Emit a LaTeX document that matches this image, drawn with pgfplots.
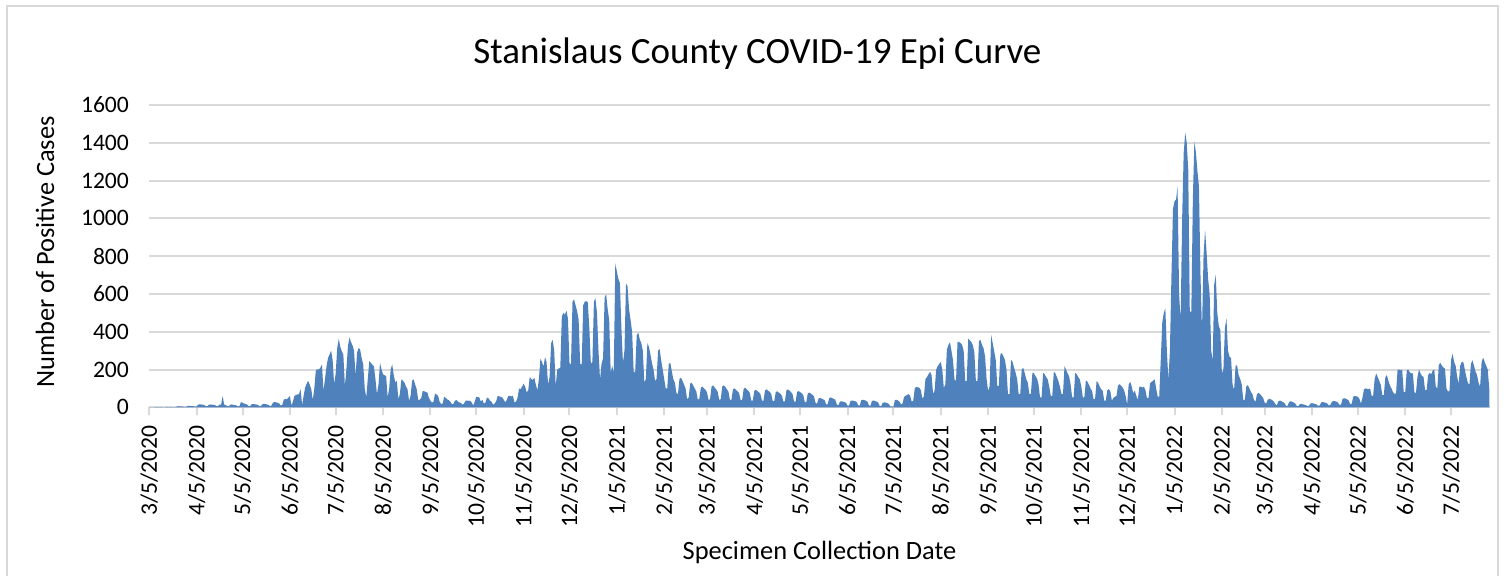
\documentclass[border=0pt]{standalone}
\usepackage{pgfplots}
\pgfplotsset{compat=1.18}
\usepackage{pgfplotstable}
\usepackage{fontspec}
\setmainfont{Carlito}
\definecolor{areablue}{HTML}{4F81BD}
\definecolor{gridgray}{HTML}{D9D9D9}
% daily positive cases, starting 3/5/2020 (one value per day)
\pgfplotstableread[row sep=\\, header=false]{
0\\0\\0\\
0\\1\\1\\1\\0\\1\\0\\
0\\1\\2\\1\\2\\1\\0\\
1\\4\\6\\5\\5\\4\\2\\
2\\7\\8\\7\\6\\6\\3\\
5\\14\\16\\15\\14\\12\\6\\
6\\14\\15\\14\\13\\12\\6\\
6\\15\\14\\60\\14\\12\\6\\
5\\14\\15\\13\\12\\10\\5\\
6\\28\\24\\20\\18\\15\\6\\
6\\16\\18\\16\\15\\13\\6\\
6\\16\\18\\17\\15\\13\\6\\
10\\25\\28\\26\\24\\20\\10\\
12\\40\\45\\42\\50\\61\\9\\
30\\61\\65\\68\\70\\96\\14\\
60\\105\\125\\140\\120\\96\\38\\
100\\195\\201\\200\\210\\227\\87\\
150\\218\\262\\280\\300\\250\\122\\
180\\314\\363\\320\\297\\279\\114\\
200\\323\\370\\345\\328\\300\\166\\
290\\314\\305\\260\\227\\100\\52\\
150\\245\\235\\225\\218\\150\\70\\
120\\236\\200\\175\\170\\166\\52\\
100\\200\\227\\170\\131\\140\\44\\
70\\148\\140\\131\\110\\96\\35\\
60\\140\\148\\120\\96\\40\\40\\
50\\87\\85\\80\\79\\50\\35\\
25\\30\\73\\68\\61\\30\\17\\
20\\56\\50\\42\\38\\30\\17\\
17\\35\\38\\30\\26\\22\\14\\
20\\35\\36\\34\\35\\25\\9\\
30\\56\\54\\52\\30\\40\\20\\
25\\52\\48\\35\\30\\14\\20\\
30\\61\\58\\55\\52\\40\\26\\
40\\61\\60\\58\\61\\26\\30\\
50\\100\\95\\110\\125\\110\\79\\
90\\160\\150\\145\\157\\120\\90\\
150\\258\\240\\215\\265\\240\\122\\
160\\340\\357\\300\\110\\200\\205\\
210\\480\\500\\490\\511\\470\\235\\
226\\560\\571\\540\\510\\462\\230\\
226\\540\\559\\562\\555\\420\\230\\
240\\560\\576\\500\\300\\148\\230\\
260\\580\\599\\520\\462\\183\\220\\
183\\763\\720\\680\\658\\420\\235\\
300\\655\\640\\520\\462\\400\\190\\
183\\380\\396\\360\\340\\300\\130\\
150\\340\\320\\280\\235\\200\\140\\
150\\300\\308\\250\\200\\150\\100\\
100\\230\\235\\190\\148\\130\\75\\
70\\150\\157\\140\\120\\100\\43\\
50\\125\\130\\115\\100\\85\\40\\
45\\104\\110\\100\\92\\80\\40\\
42\\110\\116\\105\\95\\82\\40\\
42\\110\\116\\108\\96\\84\\40\\
40\\95\\100\\92\\85\\75\\38\\
38\\98\\104\\95\\88\\76\\35\\
36\\88\\92\\86\\80\\70\\35\\
36\\90\\95\\88\\82\\72\\34\\
32\\80\\85\\78\\72\\62\\30\\
32\\90\\95\\88\\80\\70\\30\\
30\\82\\86\\80\\74\\65\\28\\
26\\74\\78\\72\\66\\58\\25\\
18\\46\\50\\46\\42\\38\\15\\
16\\48\\52\\48\\44\\40\\15\\
10\\30\\32\\30\\28\\24\\8\\
10\\34\\36\\34\\32\\28\\10\\
10\\38\\40\\38\\35\\30\\10\\
8\\34\\36\\33\\30\\26\\8\\
6\\24\\26\\25\\22\\18\\4\\
5\\2\\38\\40\\36\\30\\15\\
20\\55\\61\\65\\70\\60\\30\\
35\\100\\108\\106\\104\\90\\45\\
60\\150\\160\\175\\188\\170\\70\\
90\\200\\217\\230\\240\\200\\104\\
120\\304\\330\\344\\300\\250\\148\\
140\\348\\345\\340\\330\\300\\139\\
139\\362\\355\\345\\330\\290\\139\\
139\\350\\357\\330\\313\\270\\150\\
87\\110\\383\\340\\296\\250\\113\\
113\\280\\287\\270\\252\\200\\70\\
70\\252\\240\\210\\183\\150\\70\\
70\\200\\209\\180\\148\\130\\70\\
70\\183\\180\\165\\153\\120\\52\\
52\\183\\175\\160\\148\\110\\61\\
61\\188\\180\\160\\139\\110\\70\\
70\\217\\200\\180\\165\\120\\52\\
52\\183\\175\\160\\148\\110\\52\\
52\\143\\135\\120\\100\\87\\43\\
43\\139\\130\\110\\95\\87\\35\\
35\\90\\96\\85\\35\\50\\56\\
60\\115\\122\\115\\105\\90\\60\\
15\\120\\136\\110\\74\\88\\60\\
39\\109\\109\\105\\109\\90\\48\\
50\\127\\135\\140\\148\\100\\56\\
56\\250\\450\\500\\524\\300\\145\\
300\\700\\1050\\1090\\1100\\1168\\600\\
462\\1000\\1345\\1454\\1400\\1256\\506\\
506\\1100\\1406\\1350\\1250\\1168\\700\\
409\\800\\939\\820\\680\\600\\300\\
250\\650\\700\\500\\430\\409\\180\\
200\\420\\471\\300\\268\\260\\120\\
92\\223\\219\\170\\150\\120\\39\\
40\\110\\118\\100\\82\\70\\39\\
30\\70\\76\\70\\60\\50\\25\\
20\\40\\45\\42\\38\\30\\18\\
10\\32\\35\\32\\28\\22\\7\\
8\\28\\32\\30\\25\\20\\7\\
6\\16\\18\\16\\14\\12\\6\\
8\\20\\22\\20\\18\\15\\8\\
10\\26\\28\\26\\24\\20\\10\\
12\\30\\33\\32\\30\\25\\12\\
15\\45\\48\\46\\42\\36\\15\\
20\\56\\60\\58\\56\\45\\20\\
50\\95\\100\\98\\95\\100\\60\\
60\\150\\179\\160\\140\\118\\65\\
65\\160\\170\\140\\115\\100\\80\\
70\\74\\200\\200\\195\\200\\82\\
80\\195\\200\\185\\180\\179\\80\\
74\\160\\200\\180\\165\\161\\91\\
91\\170\\182\\175\\195\\200\\109\\
100\\225\\235\\220\\210\\205\\100\\
82\\90\\250\\284\\240\\220\\160\\
126\\220\\240\\240\\200\\161\\130\\
118\\230\\249\\220\\190\\170\\130\\
109\\240\\263\\240\\220\\200\\100\\
}\casedata
\begin{document}
\begin{tikzpicture}[x=0.5pt,y=0.5pt]
\useasboundingbox (0,0) rectangle (1507,575);
\begin{scope}
\clip (0,0) rectangle (1507,575);
\draw[gridgray, line width=1pt] (7,-20) rectangle (1498,569);
\end{scope}
\begin{axis}[
  at={(74.65pt,83.85pt)}, anchor=south west,
  scale only axis, width=670.35pt, height=151.15pt,
  xmin=0, xmax=877.5, ymin=0, ymax=1600,
  axis x line*=bottom, axis y line*=left,
  x axis line style={gridgray, line width=1pt, -},
  y axis line style={draw=none},
  ytick={0,200,...,1600},
  xtick={0,31,61,92,122,153,184,214,245,275,306,337,365,396,426,457,487,518,549,579,610,640,671,702,730,761,791,822,852},
  xticklabels={3/5/2020,4/5/2020,5/5/2020,6/5/2020,7/5/2020,8/5/2020,9/5/2020,10/5/2020,11/5/2020,12/5/2020,1/5/2021,2/5/2021,3/5/2021,4/5/2021,5/5/2021,6/5/2021,7/5/2021,8/5/2021,9/5/2021,10/5/2021,11/5/2021,12/5/2021,1/5/2022,2/5/2022,3/5/2022,4/5/2022,5/5/2022,6/5/2022,7/5/2022},
  /pgf/number format/assume math mode=true,
  /pgf/number format/1000 sep={},
  tick label style={font=\fontsize{11.8}{14}\selectfont, text=black},
  xticklabel style={rotate=90, anchor=east, inner sep=0pt},
  xticklabel shift=5pt,
  yticklabel style={anchor=east, inner sep=0pt, xshift=-6pt},
  tick align=outside, major tick length=4pt,
  xtick style={gridgray, line width=1pt},
  ytick style={draw=none},
  ymajorgrids, major grid style={gridgray, line width=1pt},
  clip=true,
]
\addplot[fill=areablue, draw=none] table[x expr=\coordindex, y index=0]{\casedata} \closedcycle;
\end{axis}
\node[font=\fontsize{18.5}{22}\selectfont, anchor=base] at (757.5,512) {Stanislaus County COVID-19 Epi Curve};
\node[font=\fontsize{13.2}{16}\selectfont, anchor=base] at (819.5,16) {Specimen Collection Date};
\node[font=\fontsize{13.2}{16}\selectfont, rotate=90, anchor=base] at (54,323) {Number of Positive Cases};
\end{tikzpicture}
\end{document}
